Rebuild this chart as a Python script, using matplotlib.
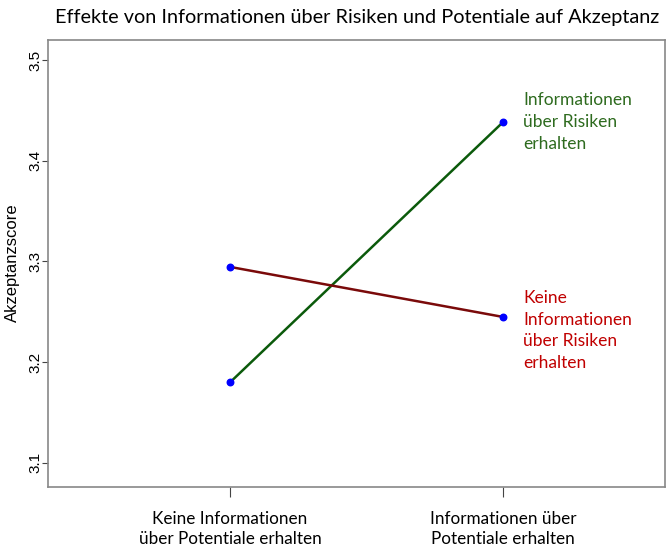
import matplotlib
matplotlib.use("Agg")
import matplotlib.pyplot as plt

# Data
x_labels = ["Keine Informationen\nüber Potentiale erhalten", "Informationen über\nPotentiale erhalten"]
x_pos = [1, 2]
risk_info = [3.180, 3.4385]      # Informationen über Risiken erhalten
no_risk_info = [3.2946, 3.2449]  # Keine Informationen über Risiken erhalten
series_labels = ["Informationen\nüber Risiken\nerhalten", "Keine\nInformationen\nüber Risiken\nerhalten"]
y_ticks = [3.1, 3.2, 3.3, 3.4, 3.5]

fig = plt.figure(figsize=(6.69, 5.46), dpi=100)
ax = fig.add_axes([48/669, 1-487/546, (665-48)/669, (487-40)/546])

ax.plot(x_pos, risk_info, color="#0b5a0b", lw=1.8, zorder=2)
ax.plot(x_pos, no_risk_info, color="#7a0a0a", lw=1.8, zorder=2)
ax.scatter(x_pos, risk_info, color="#0000ff", s=22, zorder=3)
ax.scatter(x_pos, no_risk_info, color="#0000ff", s=22, zorder=3)

ax.set_xlim(0.333, 2.593)
ax.set_ylim(3.076, 3.52)
ax.set_yticks(y_ticks)
ax.set_yticklabels([f"{v:.1f}" for v in y_ticks], rotation=90, va="center",
                   family="Liberation Sans", fontsize=11)
ax.set_xticks(x_pos)
ax.set_xticklabels(x_labels, family="Lato", fontsize=12.3, linespacing=1.3)
ax.tick_params(axis="y", length=4, pad=0, color="#444444")
ax.tick_params(axis="x", length=7, pad=10, color="#444444")
for s in ax.spines.values():
    s.set_color("#888888")
    s.set_linewidth(1.2)

fig.text(12/669, 1-263/546, "Akzeptanzscore", family="Liberation Sans", fontsize=12,
         rotation=90, va="center", ha="center")

ax.text(2.073, risk_info[1], series_labels[0], color="#2e6b1f", fontsize=12.5,
        family="Lato", va="center", ha="left", linespacing=1.45)
ax.text(2.073, 3.2315, series_labels[1], color="#c00000", fontsize=12.5,
        family="Lato", va="center", ha="left", linespacing=1.45)

fig.text(55/669, 1-18/546, "Effekte von Informationen über Risiken und Potentiale auf Akzeptanz",
         family="Lato", fontsize=14.3, va="center", ha="left")

fig.savefig("out.png", dpi=100)
